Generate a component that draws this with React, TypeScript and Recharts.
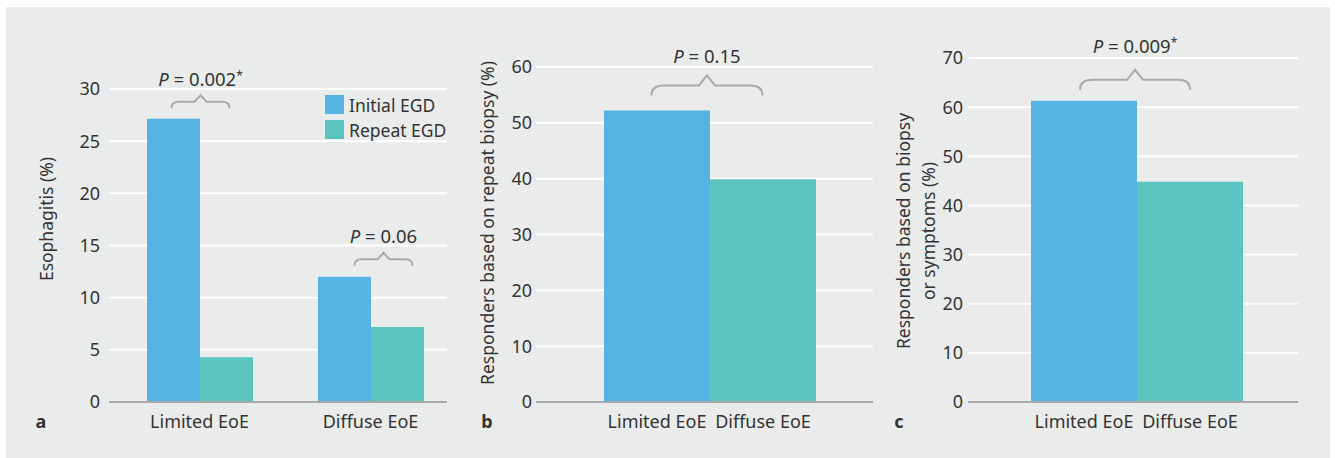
import React from 'react';
import { BarChart, Bar, XAxis, YAxis, CartesianGrid, Legend, ReferenceDot, Cell } from 'recharts';

const categories = ['Limited EoE', 'Diffuse EoE'];
const initialEGD = [27.15, 12.0];
const repeatEGD = [4.3, 7.2];
const repeatBiopsy = [52.2, 39.9];
const biopsyOrSymptoms = [61.3, 44.8];

const ticksA = [0, 5, 10, 15, 20, 25, 30];
const ticksB = [0, 10, 20, 30, 40, 50, 60];
const ticksC = [0, 10, 20, 30, 40, 50, 60, 70];

const pTextA = ['0.002', '0.06'];
const pStarA = [true, false];
const braceLevelA = [29.4, 14.3];
const pTextB = '0.15';
const braceLevelB = 58.5;
const pTextC = '0.009';
const braceLevelC = 67.6;

const dataA = categories.map((c, i) => ({ cat: c, initial: initialEGD[i], repeat: repeatEGD[i] }));
const dataB = categories.map((c, i) => ({ cat: c, value: repeatBiopsy[i] }));
const dataC = categories.map((c, i) => ({ cat: c, value: biopsyOrSymptoms[i] }));

const BLUE = '#55b3e4';
const TEAL = '#5cc4be';
const barColors = [BLUE, TEAL];
const FONT = "'Noto Sans', sans-serif";
const TEXT = '#333333';
const AXIS = '#a9a9a9';

type BraceOpts = {
  dx: number; half: number; rise: number; drop: number; caret: number; r: number;
  gap: number; text: string; star: boolean;
};

const makeBrace = (o: BraceOpts) => (props: any) => {
  const cx = props.cx + o.dx;
  const cy = props.cy;
  const yH = cy + o.rise;
  const yE = yH + o.drop;
  const d = `M ${cx - o.half} ${yE} Q ${cx - o.half} ${yH} ${cx - o.half + o.r} ${yH} L ${cx - o.caret} ${yH} L ${cx} ${cy} L ${cx + o.caret} ${yH} L ${cx + o.half - o.r} ${yH} Q ${cx + o.half} ${yH} ${cx + o.half} ${yE}`;
  return (
    <g>
      <path d={d} fill="none" stroke={AXIS} strokeWidth={2} />
      <text x={cx} y={cy - o.gap} textAnchor="middle" fontFamily={FONT} fontSize={18.5} fill={TEXT}>
        <tspan fontStyle="italic">P</tspan>
        <tspan> = {o.text}</tspan>
        {o.star ? <tspan dy={-6} fontSize={12}>*</tspan> : null}
      </text>
    </g>
  );
};

const makeAxisTitle = (lines: string[], xs: number[], cy: number, letter: string, letterX: number) => (props: any) => {
  const vb = props.viewBox || { x: 0, y: 0, width: 0, height: 0 };
  return (
    <g>
      {lines.map((l, i) => {
        const x = vb.x + xs[i];
        return (
          <text key={i} x={x} y={cy} transform={`rotate(-90 ${x} ${cy})`} textAnchor="middle"
            dominantBaseline="central" fontFamily={FONT} fontSize={17.5} fill={TEXT}>{l}</text>
        );
      })}
      <text x={vb.x + letterX} y={428} textAnchor="middle" fontFamily={FONT} fontSize={18}
        fontWeight="bold" fill={TEXT}>{letter}</text>
    </g>
  );
};

const LegendContent = (props: any) => {
  const payload = props.payload || [];
  return (
    <div style={{ fontFamily: FONT, fontSize: 17.5, color: TEXT }}>
      {payload.map((e: any, i: number) => (
        <div key={i} style={{ display: 'flex', alignItems: 'center', height: 25, whiteSpace: 'nowrap' }}>
          <span style={{ display: 'inline-block', width: 19, height: 19, background: e.color, marginRight: 5 }} />
          {e.value}
        </div>
      ))}
    </div>
  );
};

const tickStyle = { fontFamily: FONT, fontSize: 18, fill: TEXT };

export default function App() {
  return (
    <div style={{ position: 'absolute', left: 0, top: 0, width: 1335, height: 458, background: '#ffffff', overflow: 'hidden' }}>
      <div style={{ position: 'absolute', left: 6, top: 7, width: 1324, height: 451, background: '#eaeceb' }} />

      <div style={{ position: 'absolute', left: 0, top: 0 }}>
        <BarChart width={460} height={458} data={dataA} margin={{ top: 89, right: 13, bottom: 0, left: 0 }}
          barGap={0} barSize={53}>
          <CartesianGrid vertical={false} stroke="#ffffff" strokeWidth={2} />
          <XAxis dataKey="cat" height={56} tickLine={false} axisLine={{ stroke: AXIS, strokeWidth: 2 }}
            tick={tickStyle} tickMargin={7} padding={{ left: 5, right: -9 }} interval={0} />
          <YAxis width={109} domain={[0, 30]} ticks={ticksA} axisLine={false} tickLine={false}
            tick={tickStyle} tickMargin={3}
            label={{ content: makeAxisTitle(['Esophagitis (%)'], [46], 219, 'a', 41) }} />
          <Legend layout="vertical" align="center" verticalAlign="middle" content={<LegendContent />}
            wrapperStyle={{ left: 325, top: 92, width: 'auto', height: 'auto' }} />
          <Bar dataKey="initial" name="Initial EGD" fill={BLUE} isAnimationActive={false} />
          <Bar dataKey="repeat" name="Repeat EGD" fill={TEAL} isAnimationActive={false} />
          <ReferenceDot x={categories[0]} y={braceLevelA[0]} ifOverflow="visible"
            shape={makeBrace({ dx: 1, half: 29, rise: 6.5, drop: 6.5, caret: 6, r: 7, gap: 9, text: pTextA[0], star: pStarA[0] })} />
          <ReferenceDot x={categories[1]} y={braceLevelA[1]} ifOverflow="visible"
            shape={makeBrace({ dx: 13, half: 29, rise: 6.5, drop: 6.5, caret: 6, r: 7, gap: 10, text: pTextA[1], star: pStarA[1] })} />
        </BarChart>
      </div>

      <div style={{ position: 'absolute', left: 460, top: 0 }}>
        <BarChart width={420} height={458} data={dataB} margin={{ top: 67, right: 7, bottom: 0, left: 0 }}
          barCategoryGap={0}>
          <CartesianGrid vertical={false} stroke="#ffffff" strokeWidth={2} />
          <XAxis dataKey="cat" height={56} tickLine={false} axisLine={{ stroke: AXIS, strokeWidth: 2 }}
            tick={tickStyle} tickMargin={7} padding={{ left: 68, right: 57 }} interval={0} />
          <YAxis width={76} domain={[0, 60]} ticks={ticksB} axisLine={false} tickLine={false}
            tick={tickStyle} tickSize={4} tickMargin={0}
            label={{ content: makeAxisTitle(['Responders based on repeat biopsy (%)'], [27], 223, 'b', 27) }} />
          <Bar dataKey="value" isAnimationActive={false}>
            {dataB.map((d, i) => <Cell key={d.cat} fill={barColors[i]} />)}
          </Bar>
          <ReferenceDot x={categories[0]} y={braceLevelB} ifOverflow="visible"
            shape={makeBrace({ dx: 50, half: 55.5, rise: 10, drop: 10, caret: 8, r: 12, gap: 12, text: pTextB, star: false })} />
        </BarChart>
      </div>

      <div style={{ position: 'absolute', left: 880, top: 0 }}>
        <BarChart width={455} height={458} data={dataC} margin={{ top: 58, right: 37, bottom: 0, left: 0 }}
          barCategoryGap={0}>
          <CartesianGrid vertical={false} stroke="#ffffff" strokeWidth={2} />
          <XAxis dataKey="cat" height={56} tickLine={false} axisLine={{ stroke: AXIS, strokeWidth: 2 }}
            tick={tickStyle} tickMargin={7} padding={{ left: 63, right: 55 }} interval={0} />
          <YAxis width={88} domain={[0, 70]} ticks={ticksC} axisLine={false} tickLine={false}
            tick={tickStyle} tickSize={5} tickMargin={0}
            label={{ content: makeAxisTitle(['Responders based on biopsy', 'or symptoms (%)'], [23, 48], 231, 'c', 19) }} />
          <Bar dataKey="value" isAnimationActive={false}>
            {dataC.map((d, i) => <Cell key={d.cat} fill={barColors[i]} />)}
          </Bar>
          <ReferenceDot x={categories[0]} y={braceLevelC} ifOverflow="visible"
            shape={makeBrace({ dx: 51, half: 55, rise: 10, drop: 10, caret: 8, r: 12, gap: 17, text: pTextC, star: true })} />
        </BarChart>
      </div>
    </div>
  );
}
